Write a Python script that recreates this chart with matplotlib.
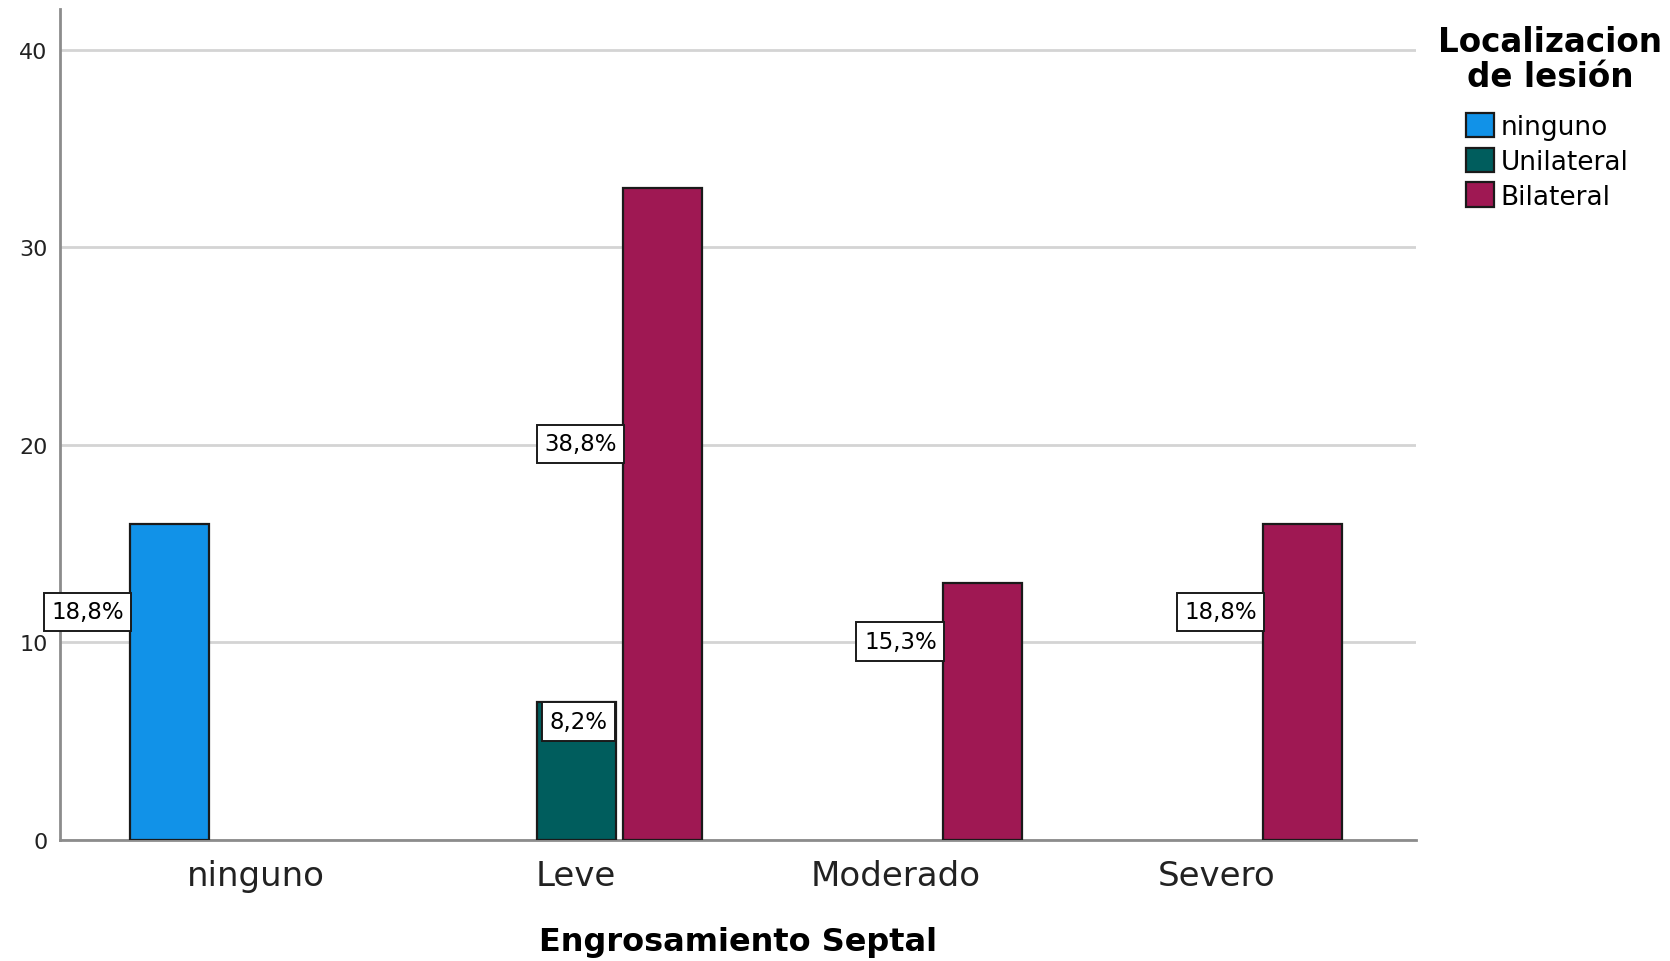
import numpy as np
import matplotlib
matplotlib.use('Agg')
import matplotlib.pyplot as plt

categories = ['ninguno', 'Leve', 'Moderado', 'Severo']
series = ['ninguno', 'Unilateral', 'Bilateral']
counts = {
    'ninguno':    [16, 0, 0, 0],
    'Unilateral': [0, 7, 0, 0],
    'Bilateral':  [0, 33, 13, 16],
}
colors = ['#1192e8', '#005d5d', '#9f1853']

# percentage labels: (series, category index, text, y level, bar edge the box ends at)
labels = [
    ('ninguno', 0, '18,8%', 11.55, 'left'),
    ('Unilateral', 1, '8,2%', 6.0, 'right'),
    ('Bilateral', 1, '38,8%', 20.05, 'left'),
    ('Bilateral', 2, '15,3%', 10.05, 'left'),
    ('Bilateral', 3, '18,8%', 11.55, 'left'),
]

plt.rcParams['font.family'] = ['DejaVu Sans']

fig = plt.figure(figsize=(16.7, 9.62), dpi=100)
fig.set_facecolor('white')
ax = fig.add_axes([0.0359, 0.1258, 0.848 - 0.0359, 0.9896 - 0.1258])

x = np.arange(len(categories))
width = 0.247
step = 0.27
handles = []
for i, s in enumerate(series):
    vals = np.array(counts[s], dtype=float)
    pos = x + (i - 1) * step
    mask = vals > 0
    b = ax.bar(pos[mask], vals[mask], width, color=colors[i], edgecolor='#1a1a1a',
               linewidth=1.6, zorder=3, label=s)
    handles.append(b)

for s, ci, txt, yl, edge in labels:
    i = series.index(s)
    center = x[ci] + (i - 1) * step
    xe = center - width / 2 if edge == 'left' else center + width / 2
    off = -4.5 if edge == 'left' else -6
    ax.annotate(txt, xy=(xe, yl), xytext=(off, 0), textcoords='offset points',
                ha='right', va='center', fontsize=16.5, zorder=5,
                bbox=dict(boxstyle='square,pad=0.33', facecolor='white',
                          edgecolor='#1a1a1a', linewidth=1.4))

ax.set_xlim(-0.6125, 3.625)
ax.set_ylim(0, 42.07)
ax.set_yticks([0, 10, 20, 30, 40])
ax.set_xticks(x)
ax.set_xticklabels(categories, fontsize=24.5, color='#222222')
ax.tick_params(axis='y', labelsize=16, length=0, pad=9, labelcolor='#222222')
ax.tick_params(axis='x', length=0, pad=14)
ax.yaxis.grid(True, color='#d4d4d4', linewidth=2, zorder=0)
ax.set_axisbelow(True)
for sp in ['top', 'right']:
    ax.spines[sp].set_visible(False)
for sp in ['left', 'bottom']:
    ax.spines[sp].set_color('#8c8c8c')
    ax.spines[sp].set_linewidth(2)
ax.spines['left'].set_zorder(4)

ax.set_xlabel('Engrosamiento Septal', fontsize=23, fontweight='bold', labelpad=24)

fig.text(1550 / 1670, 1 - 60 / 962, 'Localizacion\nde lesión', ha='center', va='center',
         multialignment='center', fontsize=23.5, fontweight='bold', linespacing=1.05)

leg = ax.legend(handles=handles, labels=series, loc='upper left',
                bbox_to_anchor=(1466 / 1670, 1 - 114 / 962), bbox_transform=fig.transFigure,
                fontsize=19, frameon=False, handlelength=1.05, handleheight=1.05,
                handletextpad=0.25, labelspacing=0.28, borderpad=0, borderaxespad=0)

fig.savefig('out.png', dpi=100, facecolor='white')
